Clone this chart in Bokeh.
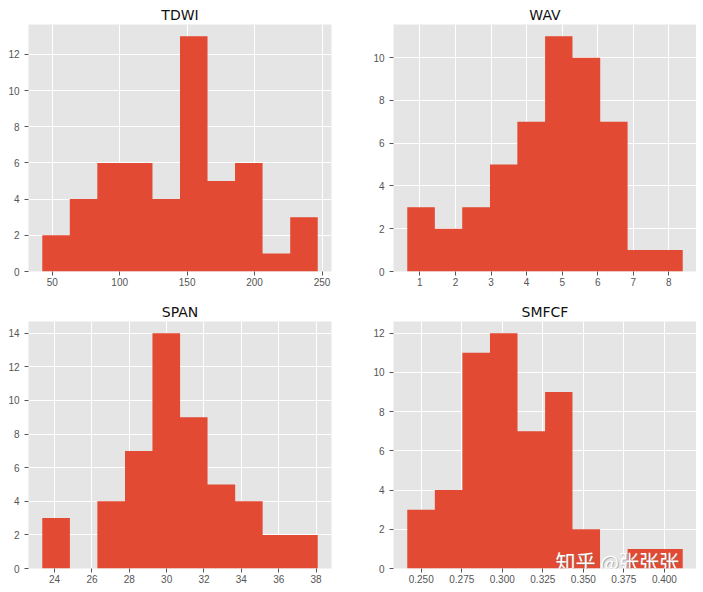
from bokeh.plotting import figure
from bokeh.layouts import column, row
from bokeh.models import FixedTicker, PrintfTickFormatter, Label, Range1d, Title
from bokeh.embed import file_html
from bokeh.resources import INLINE

# ---- data ----
titles = ["TDWI", "WAV", "SPAN", "SMFCF"]

tdwi_edges = [42.6, 63.0, 83.4, 103.8, 124.3, 144.7, 165.1, 185.5, 205.9, 226.4, 246.8]
tdwi_counts = [2, 4, 6, 6, 4, 13, 5, 6, 1, 3]
tdwi_xticks = [50, 100, 150, 200, 250]
tdwi_yticks = [0, 2, 4, 6, 8, 10, 12]

wav_edges = [0.645, 1.42, 2.19, 2.97, 3.74, 4.52, 5.29, 6.07, 6.84, 7.62, 8.39]
wav_counts = [3, 2, 3, 5, 7, 11, 10, 7, 1, 1]
wav_xticks = [1, 2, 3, 4, 5, 6, 7, 8]
wav_yticks = [0, 2, 4, 6, 8, 10]

span_edges = [23.34, 24.82, 26.29, 27.77, 29.24, 30.72, 32.19, 33.67, 35.14, 36.62, 38.09]
span_counts = [3, 0, 4, 7, 14, 9, 5, 4, 2, 2]
span_xticks = [24, 26, 28, 30, 32, 34, 36, 38]
span_yticks = [0, 2, 4, 6, 8, 10, 12, 14]

smfcf_edges = [0.2414, 0.2584, 0.2754, 0.2924, 0.3094, 0.3264, 0.3433, 0.3603, 0.3773, 0.3943, 0.4113]
smfcf_counts = [3, 4, 11, 12, 7, 9, 2, 0, 1, 1]
smfcf_xticks = [0.25, 0.275, 0.30, 0.325, 0.35, 0.375, 0.40]
smfcf_yticks = [0, 2, 4, 6, 8, 10, 12]

watermark = "知乎 @张张张"

BAR = "#E24A33"
BG = "#E5E5E5"
TICK = "#555555"


def make_hist(title, edges, counts, xticks, yticks, fmt, bl, br, bt, bb):
    lo, hi = edges[0], edges[-1]
    pad = 0.05 * (hi - lo)
    t = Title(text=title, align="center", text_font="DejaVu Sans",
              text_font_size="14px", text_font_style="normal",
              text_color="#111111", standoff=3)
    p = figure(frame_width=303, frame_height=247, title=t,
               x_range=Range1d(lo - pad, hi + pad),
               y_range=Range1d(0, 1.05 * max(counts)),
               output_backend="svg", toolbar_location=None,
               min_border_left=bl, min_border_right=br,
               min_border_top=bt, min_border_bottom=bb,
               background_fill_color=BG, border_fill_color="white",
               outline_line_color=None)
    # histogram drawn as one step-outline polygon (no seams between bins)
    xs, ys = [edges[0]], [0]
    for i, c in enumerate(counts):
        xs += [edges[i], edges[i + 1]]
        ys += [c, c]
    xs.append(edges[-1])
    ys.append(0)
    p.patch(xs, ys, fill_color=BAR, line_color=None)
    p.xaxis.ticker = FixedTicker(ticks=xticks)
    p.yaxis.ticker = FixedTicker(ticks=yticks)
    if fmt:
        p.xaxis.formatter = PrintfTickFormatter(format=fmt)
    for ax in (p.xaxis, p.yaxis):
        ax.axis_line_color = None
        ax.major_tick_line_color = TICK
        ax.major_tick_out = 4
        ax.major_tick_in = 0
        ax.minor_tick_line_color = None
        ax.major_label_text_font = "Liberation Sans"
        ax.major_label_text_font_size = "10px"
        ax.major_label_text_color = TICK
    p.yaxis.major_label_standoff = 5
    p.xaxis.major_label_standoff = 2
    p.grid.grid_line_color = "white"
    p.grid.grid_line_width = 1
    return p


p1 = make_hist(titles[0], tdwi_edges, tdwi_counts, tdwi_xticks, tdwi_yticks, None, 28, 20, 24, 25)
p2 = make_hist(titles[1], wav_edges, wav_counts, wav_xticks, wav_yticks, None, 42, 0, 24, 25)
p3 = make_hist(titles[2], span_edges, span_counts, span_xticks, span_yticks, None, 28, 20, 25, 17)
p4 = make_hist(titles[3], smfcf_edges, smfcf_counts, smfcf_xticks, smfcf_yticks, "%.3f", 42, 0, 25, 17)

shadow = Label(x=0.3329, y=-0.37, text=watermark, text_color="#888888", text_alpha=0.6,
               text_font="Noto Sans CJK SC", text_font_size="20px",
               x_offset=1, y_offset=-1)
wm = Label(x=0.3329, y=-0.37, text=watermark, text_color="white",
           text_font="Noto Sans CJK SC", text_font_size="20px")
p4.add_layout(shadow)
p4.add_layout(wm)

layout = column(row(p1, p2), row(p3, p4))

open("out.html", "w").write(file_html(layout, INLINE))
